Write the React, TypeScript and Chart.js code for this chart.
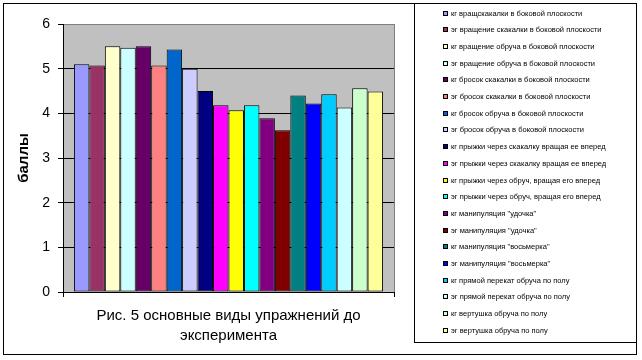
import React, { useEffect, useRef } from "react";
import { Chart, registerables } from "chart.js";

Chart.register(...registerables);

const categories = [""];

const seriesLabels = [
  "кг вращскакалки в боковой плоскости",
  "эг вращение скакалки в боковой плоскости",
  "кг вращение обруча в боковой плоскости",
  "эг вращение обруча в боковой плоскости",
  "кг бросок скакалки в боковой плоскости",
  "эг бросок скакалки в боковой плоскости",
  "кг бросок обруча в боковой плоскости",
  "эг бросок обруча в боковой плоскости",
  "кг прыжки через скакалку вращая ее вперед",
  "эг прыжки через скакалку вращая ее вперед",
  "кг прыжки через обруч, вращая его вперед",
  "эг прыжки через обруч, вращая его вперед",
  "кг манипуляция \"удочка\"",
  "эг манипуляция \"удочка\"",
  "кг манипуляция \"восьмерка\"",
  "эг манипуляция \"восьмерка\"",
  "кг прямой перекат обруча по полу",
  "эг прямой перекат обруча по полу",
  "кг вертушка обруча по полу",
  "эг вертушка обруча по полу",
];

const seriesValues = [
  5.1, 5.07, 5.5, 5.47, 5.5, 5.07, 5.43, 5.0, 4.5, 4.18,
  4.07, 4.18, 3.89, 3.62, 4.4, 4.22, 4.43, 4.13, 4.56, 4.49,
];

const seriesColors = [
  "#9999FF", "#993366", "#FFFFCC", "#CCFFFF", "#660066",
  "#FF8080", "#0066CC", "#CCCCFF", "#000080", "#FF00FF",
  "#FFFF00", "#00FFFF", "#800080", "#800000", "#008080",
  "#0000FF", "#00CCFF", "#CCFFFF", "#CCFFCC", "#FFFF99",
];

const yTicks = [0, 1, 2, 3, 4, 5, 6];
const yTitle = "баллы";
const xTitle = ["Рис. 5 основные виды упражнений до", "эксперимента"];

const FONT = "'Liberation Sans', Arial, sans-serif";

const framePlugin = {
  id: "frame",
  beforeDraw(chart: any) {
    const { ctx, chartArea: a } = chart;
    ctx.save();
    ctx.fillStyle = "#FFFFFF";
    ctx.fillRect(0, 0, chart.width, chart.height);
    ctx.fillStyle = "#C0C0C0";
    ctx.fillRect(a.left, a.top, a.right - a.left, a.bottom - a.top);
    ctx.restore();
  },
  afterDraw(chart: any) {
    const { ctx } = chart;
    ctx.save();
    ctx.strokeStyle = "#000000";
    ctx.lineWidth = 1;
    // outer frame
    ctx.strokeRect(3.5, 3.5, 633, 351);
    // legend box
    ctx.strokeRect(414.5, 3.5, 222, 339);
    // legend entries
    ctx.font = "7.5px " + FONT;
    ctx.textBaseline = "middle";
    ctx.textAlign = "left";
    chart.data.datasets.forEach((d: any, i: number) => {
      const cy = 13 + i * 16.7;
      const top = Math.round(cy - 2.5);
      ctx.fillStyle = d.backgroundColor;
      ctx.fillRect(443, top, 5, 5);
      ctx.strokeStyle = "#000000";
      ctx.strokeRect(443.5, top + 0.5, 4, 4);
      ctx.fillStyle = "#000000";
      ctx.fillText(d.label, 451, top + 3);
    });
    ctx.restore();
  },
};

export default function App() {
  const canvasRef = useRef<HTMLCanvasElement | null>(null);

  useEffect(() => {
    if (!canvasRef.current) return;
    Chart.defaults.font.family = FONT;
    const chart = new Chart(canvasRef.current, {
      type: "bar",
      data: {
        labels: categories,
        datasets: seriesLabels.map((label, i) => ({
          label,
          data: [seriesValues[i]],
          backgroundColor: seriesColors[i],
          borderColor: "#000000",
          borderWidth: 1,
          borderSkipped: false,
          categoryPercentage: 0.934,
          barPercentage: 1,
        })),
      },
      options: {
        animation: false,
        responsive: false,
        devicePixelRatio: 1,
        layout: { padding: { left: 0, top: 24, right: 248, bottom: 0 } },
        plugins: {
          legend: { display: false },
          tooltip: { enabled: false },
        },
        scales: {
          x: {
            type: "category",
            offset: true,
            grid: {
              offset: true,
              drawOnChartArea: true,
              color: (c: any) => (c.index === 0 ? "#000000" : "#808080"),
              tickColor: "#000000",
              tickLength: 5,
              lineWidth: 1,
            },
            border: { color: "#000000", width: 1 },
            ticks: { display: false },
            title: {
              display: true,
              text: xTitle,
              color: "#000000",
              font: { size: 15, lineHeight: "20px", family: FONT },
              padding: { top: 0, bottom: 14 },
            },
            afterFit: (s: any) => {
              s.height = 68;
            },
          },
          y: {
            min: 0,
            max: 6,
            afterBuildTicks: (s: any) => {
              s.ticks = yTicks.map((v) => ({ value: v }));
            },
            grid: {
              color: (c: any) =>
                c.tick && c.tick.value === 6 ? "#808080" : "#000000",
              tickColor: "#000000",
              tickLength: 5,
              lineWidth: 1,
            },
            border: { color: "#000000", width: 1 },
            ticks: {
              color: "#000000",
              padding: 8,
              font: { size: 14, family: FONT },
            },
            title: {
              display: true,
              text: yTitle,
              color: "#000000",
              font: { size: 15, weight: "bold", family: FONT },
              padding: { top: 15, bottom: 0 },
            },
            afterFit: (s: any) => {
              s.width = 63;
            },
          },
        },
      },
      plugins: [framePlugin],
    });
    return () => chart.destroy();
  }, []);

  return (
    <div style={{ position: "absolute", left: 0, top: 0, width: 642, height: 360 }}>
      <canvas ref={canvasRef} width={642} height={360} />
    </div>
  );
}
